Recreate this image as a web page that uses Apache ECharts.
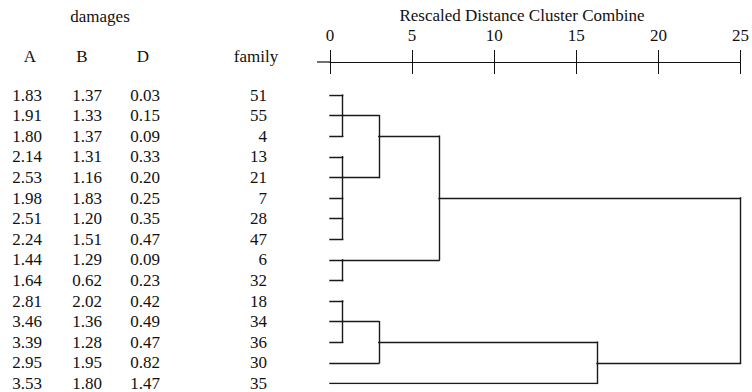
<!DOCTYPE html>
<html><head><meta charset="utf-8">
<script src="https://cdn.jsdelivr.net/npm/echarts@6/dist/echarts.min.js"></script>
<style>html,body{margin:0;padding:0;background:#fff}#c{width:752px;height:392px}</style>
</head><body><div id="c"></div>
<script>
// ---- data ----
const families = [51, 55, 4, 13, 21, 7, 28, 47, 6, 32, 18, 34, 36, 30, 35];
const damageA = [1.83, 1.91, 1.80, 2.14, 2.53, 1.98, 2.51, 2.24, 1.44, 1.64, 2.81, 3.46, 3.39, 2.95, 3.53];
const damageB = [1.37, 1.33, 1.37, 1.31, 1.16, 1.83, 1.20, 1.51, 1.29, 0.62, 2.02, 1.36, 1.28, 1.95, 1.80];
const damageD = [0.03, 0.15, 0.09, 0.33, 0.20, 0.25, 0.35, 0.47, 0.09, 0.23, 0.42, 0.49, 0.47, 0.82, 1.47];
const columnHeaders = ['A', 'B', 'D', 'family'];
const groupHeader = 'damages';
const axisTitle = 'Rescaled Distance Cluster Combine';
const distanceTicks = [0, 5, 10, 15, 20, 25];
// internal cluster nodes (ids 15..23): children ids, merge distance, row of outgoing line
const nodeChildren = [[0,1,2],[3,4,5,6,7],[8,9],[10,11,12],[15,16],[19,17],[18,13],[21,14],[20,22]];
const nodeHeight = [0.77, 0.77, 0.77, 0.77, 2.97, 6.64, 2.97, 16.26, 25];
const nodeRow = [1, 4, 8, 11, 2, 5, 12, 13, 9];

// ---- build dendrogram segments ----
const nLeaf = families.length;
const hOf = id => id < nLeaf ? 0 : nodeHeight[id - nLeaf];
const rOf = id => id < nLeaf ? id : nodeRow[id - nLeaf];
const segs = [];
nodeChildren.forEach((ch, k) => {
  const H = nodeHeight[k];
  const rows = ch.map(rOf);
  segs.push({coords: [[H, Math.min(...rows)], [H, Math.max(...rows)]]});
  ch.forEach(c => segs.push({coords: [[hOf(c), rOf(c)], [H, rOf(c)]]}));
});

const FONT = '"Liberation Serif", "Times New Roman", Times, serif';
const FS = 17;
const INK = '#111';
function labelAxis(arr, offset, align, fmt) {
  return {
    type: 'value', min: 0, max: nLeaf - 1, interval: 1, inverse: true,
    position: 'left', offset: offset,
    axisLine: {show: false, onZero: false}, axisTick: {show: false}, splitLine: {show: false},
    axisLabel: {
      margin: 0, align: align, fontFamily: FONT, fontSize: FS, color: INK,
      padding: [0, 0, 3, 0],
      formatter: v => fmt(arr[Math.round(v)])
    }
  };
}
const fmt2 = x => x.toFixed(2);

const chart = echarts.init(document.getElementById('c'), null, {renderer: 'svg'});
const txt = (s, x, y) => ({
  type: 'text', x: x, y: y,
  style: {text: s, fill: INK, fontFamily: FONT, fontSize: FS, font: FS + 'px ' + FONT,
          textAlign: 'center', textVerticalAlign: 'middle', align: 'center', verticalAlign: 'middle'}
});
chart.setOption({
  animation: false,
  backgroundColor: '#fff',
  textStyle: {fontFamily: FONT},
  grid: {left: 330, right: 10, top: 95, bottom: 8},
  xAxis: [
    {type: 'value', position: 'top', min: 0, max: 25, interval: 5, offset: 33,
     axisLine: {show: true, onZero: false, lineStyle: {color: INK, width: 1.2}},
     axisTick: {show: true, inside: false, length: 12, lineStyle: {color: INK, width: 1}},
     axisLabel: {show: true, margin: 18, fontFamily: FONT, fontSize: FS, color: INK,
                 formatter: v => distanceTicks.indexOf(v) >= 0 ? String(v) : ''},
     splitLine: {show: false}},
    {type: 'value', position: 'top', min: 0, max: 25, interval: 5, offset: 33,
     axisLine: {show: false, onZero: false},
     axisTick: {show: true, inside: true, length: 12, lineStyle: {color: INK, width: 1}},
     axisLabel: {show: false}, splitLine: {show: false}}
  ],
  yAxis: [
    {type: 'value', min: 0, max: nLeaf - 1, inverse: true, show: false},
    labelAxis(damageA, 303, 'center', fmt2),
    labelAxis(damageB, 243, 'center', fmt2),
    labelAxis(damageD, 185, 'center', fmt2),
    labelAxis(families, 63, 'right', x => String(x))
  ],
  graphic: [
    txt(groupHeader, 100, 16),
    txt(columnHeaders[0], 30, 56),
    txt(columnHeaders[1], 82, 56),
    txt(columnHeaders[2], 143, 56),
    txt(columnHeaders[3], 256, 56),
    txt(axisTitle, 522, 15),
    {type: 'line', shape: {x1: 317, y1: 62, x2: 330, y2: 62}, style: {stroke: INK, lineWidth: 1.2}}
  ],
  series: [{
    type: 'lines', coordinateSystem: 'cartesian2d', xAxisIndex: 0, yAxisIndex: 0,
    polyline: false,
    lineStyle: {color: '#1a1a1a', width: 1.4, opacity: 1, cap: 'square'},
    data: segs
  }]
});
</script></body></html>
